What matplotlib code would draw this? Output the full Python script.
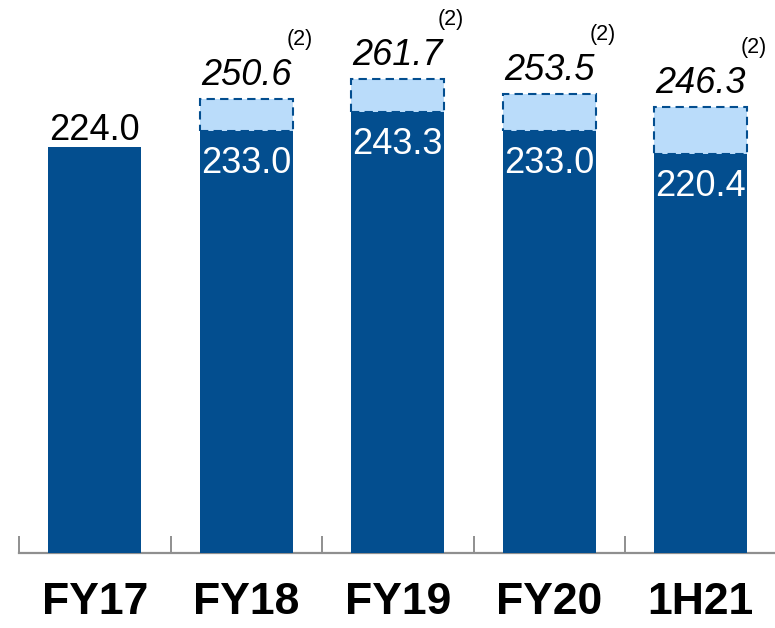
import numpy as np
import matplotlib.pyplot as plt

categories = ['FY17', 'FY18', 'FY19', 'FY20', '1H21']
base_values = [224.0, 233.0, 243.3, 233.0, 220.4]
adjusted_values = [None, 250.6, 261.7, 253.5, 246.3]
note = '(2)'

dark_blue = '#034E8F'
light_blue = '#BADCFA'
axis_grey = '#8F8F8F'

fig = plt.figure(figsize=(7.75, 6.28), dpi=100)
ax = fig.add_axes([19 / 775, 75 / 628, 757.5 / 775, 553 / 628])

x = np.arange(len(categories))
width = 0.615

# light "adjusted" part drawn behind, dark reported part on top
for i, adj in enumerate(adjusted_values):
    if adj is None:
        continue
    ax.bar(x[i], adj - base_values[i], width, bottom=base_values[i],
           color=light_blue, edgecolor=dark_blue, linestyle=(0, (4, 2.5)),
           linewidth=1.5, zorder=2)
ax.bar(x, base_values, width, color=dark_blue, zorder=3)

num_font = ['Liberation Sans', 'DejaVu Sans']
for i, val in enumerate(base_values):
    adj = adjusted_values[i]
    if adj is None:
        ax.annotate(f'{val:.1f}', (x[i], val), xytext=(0, 7),
                    textcoords='offset pixels', ha='center', va='baseline',
                    fontsize=26, family=num_font, color='black', zorder=5)
    else:
        ax.annotate(f'{val:.1f}', (x[i], val), xytext=(0, -42),
                    textcoords='offset pixels', ha='center', va='baseline',
                    fontsize=26, family=num_font, color='white', zorder=5)
        ax.annotate(f'{adj:.1f}', (x[i], adj), xytext=(0, 14),
                    textcoords='offset pixels', ha='center', va='baseline',
                    fontsize=26, family=num_font, style='italic',
                    color='black', zorder=5)
        ax.annotate(note, (x[i], adj), xytext=(40, 54),
                    textcoords='offset pixels', ha='left', va='baseline',
                    fontsize=15.5, family=num_font, color='black', zorder=5)

ax.set_xlim(-0.5, len(categories) - 0.5)
ax.set_ylim(0, 553 / 1.8125)

for side in ['left', 'right', 'top']:
    ax.spines[side].set_visible(False)
ax.spines['bottom'].set_color(axis_grey)
ax.spines['bottom'].set_linewidth(1.6)
ax.set_yticks([])

ax.set_xticks(x)
ax.set_xticklabels(categories, family=num_font, fontweight='bold', fontsize=32)
ax.set_xticks(np.arange(len(categories) + 1) - 0.5, minor=True)
ax.tick_params(axis='x', which='major', length=0, pad=21)
ax.tick_params(axis='x', which='minor', direction='in', length=12,
               width=1.4, color=axis_grey)

fig.savefig('out.png', dpi=100)
